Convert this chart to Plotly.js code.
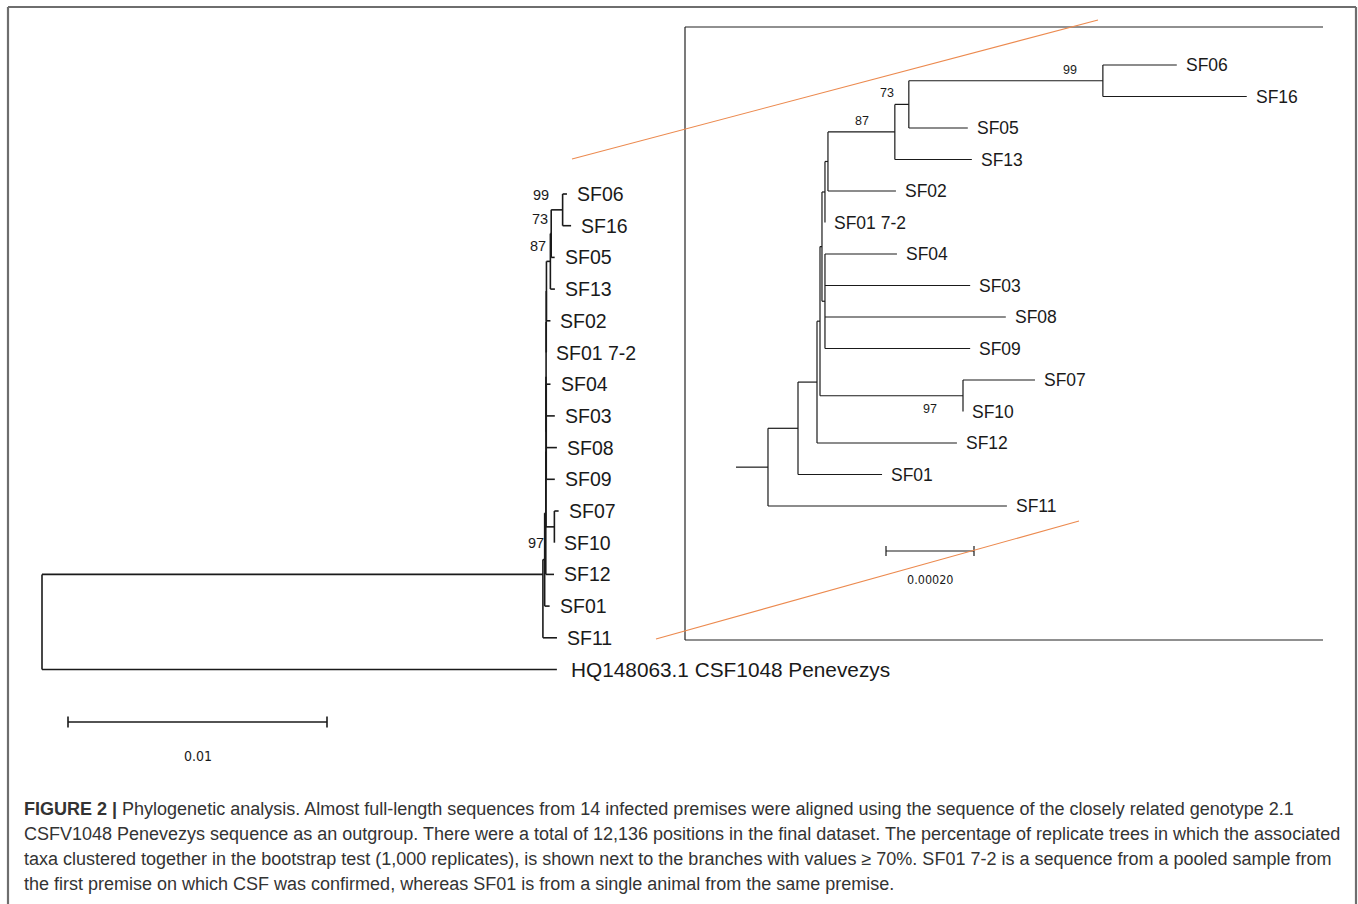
<!DOCTYPE html>
<html><head><meta charset="utf-8">
<script src="https://cdn.plot.ly/plotly-3.0.1.min.js"></script>
<style>html,body{margin:0;padding:0;background:#fff;}#chart{width:1358px;height:904px;}</style>
</head><body><div id="chart"></div>
<script>
// ---------- DATA ----------
// Tree nodes in top-to-bottom pre-order; branch lengths in substitutions/site
const nodeIds = ["ROOT","A","B","C","D","M","K","F","G","H","I","SF06","SF16","SF05","SF13","SF02","SF01 7-2","R","SF04","SF03","SF08","SF09","J","SF07","SF10","SF12","SF01","SF11","HQ148063.1 CSF1048 Penevezys"];
const nodeParents = [null,"ROOT","A","B","C","D","M","K","F","G","H","I","I","H","G","F","K","M","R","R","R","R","D","J","J","C","B","A","ROOT"];
const branchLengths = [0,0.01934,0.0000682,0.0000432,0.0000068,0.0000045,0.0000068,0.0000068,0.000152,0.0000318,0.000441,0.000168,0.000327,0.000134,0.000175,0.0001545,0,0.0000068,0.0001636,0.00033,0.000411,0.00033,0.000325,0.0001636,0,0.000318,0.000191,0.000543,0.01988];
const bootstrapNodes = ["I","H","G","J"];
const bootstrapValues = [99,73,87,97];
const mainIngroupJoinRow = 12;    // main tree: ingroup branch meets the ingroup at the SF12 row
const zoomRootId = "A";           // subtree enlarged in the inset
const zoomRootStub = 0.0000727;   // visible part of the stem above the inset root
const scaleLeft = 0.01;
const scaleRight = 0.0002;
const scaleLeftLabel = "0.01";
const scaleRightLabel = "0.00020";
const captionLines = [
 "<b>FIGURE 2 |</b> Phylogenetic analysis. Almost full-length sequences from 14 infected premises were aligned using the sequence of the closely related genotype 2.1",
 "CSFV1048 Penevezys sequence as an outgroup. There were a total of 12,136 positions in the final dataset. The percentage of replicate trees in which the associated",
 "taxa clustered together in the bootstrap test (1,000 replicates), is shown next to the branches with values \u2265 70%. SF01 7-2 is a sequence from a pooled sample from",
 "the first premise on which CSF was confirmed, whereas SF01 is from a single animal from the same premise."
];

// ---------- LAYOUT GEOMETRY ----------
const W = 1358, H = 904;
const LG = {x0:42, ppu:25900, y0:194, dy:31.7};   // main tree
const RG = {x0:736, ppu:440000, y0:65, dy:31.5};  // inset tree
const px2x = (g,p)=> (p-g.x0)/g.ppu;
const py2p = p => 1 - p/H;
const px2p = p => p/W;
// bootstrap label offsets (px) per node: [main xshift, inset xshift]
const bsShift = {I:[-12,-24], H:[-1,-13], G:[-2,-24], J:[-8,-24]};

// ---------- TREE LAYOUT ----------
function buildTree(rootId, x0){
  const children = {}; nodeIds.forEach(id=>children[id]=[]);
  nodeIds.forEach((id,i)=>{ if(nodeParents[i]!==null) children[nodeParents[i]].push(id); });
  const len = {}; nodeIds.forEach((id,i)=>len[id]=branchLengths[i]);
  const pos = {}; let leafIdx = 0;
  (function walk(id, x){
    if(children[id].length===0){ pos[id]={x:x,y:leafIdx++,leaf:true}; return; }
    children[id].forEach(c=>walk(c, x+len[c]));
    const f = pos[children[id][0]].y, l = pos[children[id][children[id].length-1]].y;
    pos[id]={x:x,y:(f+l)/2,leaf:false,y0:f,y1:l};
  })(rootId, x0);
  return {pos, children};
}
function treeLines(tree, rootId, stub){
  const xs=[], ys=[];
  const {pos, children} = tree;
  Object.keys(pos).forEach(id=>{
    const p = pos[id];
    if(!p.leaf){ xs.push(p.x,p.x,null); ys.push(Math.min(p.y0,p.y),Math.max(p.y1,p.y),null); }
    children[id].forEach(c=>{ xs.push(p.x,pos[c].x,null); ys.push(pos[c].y,pos[c].y,null); });
  });
  if(stub){ xs.push(pos[rootId].x-stub,pos[rootId].x,null); ys.push(pos[rootId].y,pos[rootId].y,null); }
  return {xs, ys};
}

const mainTree = buildTree("ROOT", 0);
mainTree.pos["A"].y = mainIngroupJoinRow;
mainTree.pos["ROOT"].y0 = mainIngroupJoinRow;
const insetTree = buildTree(zoomRootId, zoomRootStub);
const mainL = treeLines(mainTree, "ROOT", 0);
const insetL = treeLines(insetTree, zoomRootId, zoomRootStub);

const traces = [
  {x:mainL.xs, y:mainL.ys, mode:'lines', type:'scatter', line:{color:'#1a1a1a', width:1.6}, hoverinfo:'skip', xaxis:'x', yaxis:'y'},
  {x:insetL.xs, y:insetL.ys, mode:'lines', type:'scatter', line:{color:'#1a1a1a', width:1.2}, hoverinfo:'skip', xaxis:'x2', yaxis:'y2'}
];

const ann = [];
const txtFont = 'Liberation Sans, Arial, sans-serif';
Object.keys(mainTree.pos).forEach(id=>{
  const p = mainTree.pos[id]; if(!p.leaf) return;
  const isOut = id.startsWith("HQ");
  ann.push({x:p.x, y:p.y, xref:'x', yref:'y', text:id, showarrow:false, xanchor:'left', yanchor:'middle',
    xshift: isOut?12:8, font:{family:txtFont, size:isOut?20.8:19.5, color:'#1a1a1a'}});
});
Object.keys(insetTree.pos).forEach(id=>{
  const p = insetTree.pos[id]; if(!p.leaf) return;
  ann.push({x:p.x, y:p.y, xref:'x2', yref:'y2', text:id, showarrow:false, xanchor:'left', yanchor:'middle',
    xshift:7, font:{family:txtFont, size:17.5, color:'#1a1a1a'}});
});
bootstrapNodes.forEach((id,i)=>{
  const below = id==="J";
  const pm = mainTree.pos[id], pi = insetTree.pos[id];
  ann.push({x:pm.x, y:pm.y, xref:'x', yref:'y', text:String(bootstrapValues[i]), showarrow:false, xanchor:'right', yanchor:'middle',
    xshift:bsShift[id][0], yshift: below?-16:15, font:{family:txtFont, size:14.5, color:'#1a1a1a'}});
  ann.push({x:pi.x, y:pi.y, xref:'x2', yref:'y2', text:String(bootstrapValues[i]), showarrow:false, xanchor:'right', yanchor:'middle',
    xshift:bsShift[id][1], yshift: below?-13:11, font:{family:txtFont, size:12.5, color:'#1a1a1a'}});
});

// scale bars
const sL0 = px2x(LG,68), sR0 = px2x(RG,886);
const shapes = [];
function bar(xref, x0, len, ypx, tick, w){
  shapes.push({type:'line', xref, yref:'paper', x0, x1:x0+len, y0:py2p(ypx), y1:py2p(ypx), line:{color:'#1a1a1a', width:w}});
  shapes.push({type:'line', xref, yref:'paper', x0, x1:x0, y0:py2p(ypx-tick), y1:py2p(ypx+tick), line:{color:'#1a1a1a', width:w}});
  shapes.push({type:'line', xref, yref:'paper', x0:x0+len, x1:x0+len, y0:py2p(ypx-tick), y1:py2p(ypx+tick), line:{color:'#1a1a1a', width:w}});
}
bar('x', sL0, scaleLeft, 722, 5.5, 1.6);
bar('x2', sR0, scaleRight, 551, 5, 1.2);
ann.push({x:sL0+scaleLeft/2, y:py2p(756), xref:'x', yref:'paper', text:scaleLeftLabel, showarrow:false, xanchor:'center', yanchor:'middle', font:{family:'DejaVu Sans Condensed, DejaVu Sans, sans-serif', size:14, color:'#1a1a1a'}});
ann.push({x:sR0+scaleRight/2, y:py2p(579), xref:'x2', yref:'paper', text:scaleRightLabel, showarrow:false, xanchor:'center', yanchor:'middle', font:{family:'DejaVu Sans Condensed, DejaVu Sans, sans-serif', size:12.5, color:'#1a1a1a'}});

// frames and connector lines (paper pixels)
function pline(x0,y0,x1,y1,color,w){ shapes.push({type:'line', xref:'paper', yref:'paper', x0:px2p(x0), y0:py2p(y0), x1:px2p(x1), y1:py2p(y1), line:{color, width:w}}); }
pline(8,7,1356,7,'#6e6e6e',2.2);
pline(8,7,8,910,'#6e6e6e',2.2);
pline(1356,7,1356,910,'#6e6e6e',2.2);
pline(685,27,1323,27,'#222',1.2);
pline(685,27,685,640,'#222',1.2);
pline(685,640,1323,640,'#222',1.2);
pline(572,159,1098,20,'#ec8a4f',1.1);
pline(656,639,1079,521,'#ec8a4f',1.1);

// caption
captionLines.forEach((t,i)=>{
  ann.push({x:px2p(22), y:py2p(809+25*i), xref:'paper', yref:'paper', text:t, showarrow:false, xanchor:'left', yanchor:'middle',
    font:{family:txtFont, size:18, color:'#333'}});
});

const layout = {
  width:W, height:H, margin:{l:0,r:0,t:0,b:0}, paper_bgcolor:'#fff', plot_bgcolor:'#fff', showlegend:false,
  xaxis:{range:[px2x(LG,0), px2x(LG,W)], visible:false, fixedrange:true},
  yaxis:{range:[(H-LG.y0)/LG.dy, -LG.y0/LG.dy], visible:false, fixedrange:true},
  xaxis2:{range:[px2x(RG,0), px2x(RG,W)], visible:false, overlaying:'x', fixedrange:true},
  yaxis2:{range:[(H-RG.y0)/RG.dy, -RG.y0/RG.dy], visible:false, overlaying:'y', fixedrange:true},
  shapes, annotations:ann, hovermode:false
};
Plotly.newPlot('chart', traces, layout, {staticPlot:true, displayModeBar:false});
</script></body></html>
